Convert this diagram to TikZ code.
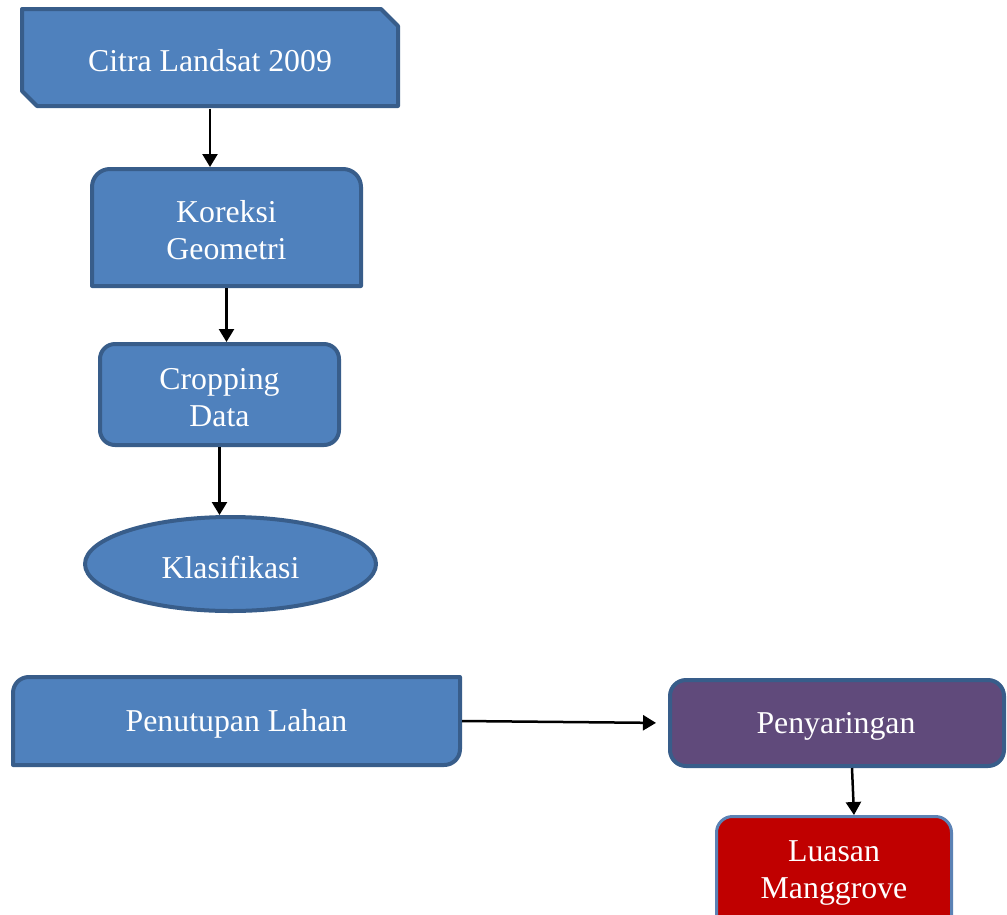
\documentclass[tikz,border=0pt]{standalone}
\usepackage{fontspec}
\setmainfont{Liberation Serif}
\usetikzlibrary{arrows.meta,calc}
\definecolor{fillblue}{HTML}{4F81BD}
\definecolor{edgeblue}{HTML}{385D8A}
\definecolor{fillpurple}{HTML}{604A7B}
\definecolor{fillred}{HTML}{C00000}
\definecolor{edgelight}{HTML}{5B82B5}
\begin{document}
\begin{tikzpicture}[x=1pt,y=-1pt,
  geo/.style={inner sep=0pt,outer sep=0pt,rectangle},
  txt/.style={text=white,font=\fontsize{31.8}{37}\selectfont,align=center,inner sep=0pt,yshift=-3pt},
  shp/.style={fill=fillblue,draw=edgeblue,line width=4pt,line join=round},
  arr/.style={-{Triangle[length=13pt,width=15pt]},line width=2.5pt,draw=black}]
\useasboundingbox (0,0) rectangle (1007,914);
% shapes
\draw[shp] (22,9) -- (381,9) -- (398,26) -- (398,106) -- (37,106) -- (22,91) -- cycle;
\draw[shp] (92,286) -- (92,187) .. controls (92,177) and (100,169) .. (110,169) -- (343,169) .. controls (353,169) and (361,177) .. (361,187) -- (361,286) -- cycle;
\draw[shp,rounded corners=15pt] (100,344) rectangle (339,445);
\draw[shp] (230.5,564) ellipse [x radius=145.5, y radius=47];
\draw[shp] (13,765) -- (13,693) .. controls (13,684) and (20,677) .. (29,677) -- (460,677) -- (460,749) .. controls (460,758) and (453,765) .. (444,765) -- cycle;
\draw[shp,fill=fillpurple,rounded corners=16pt] (670,680) rectangle (1004,766);
\draw[shp,fill=fillred,draw=edgelight,line width=3pt,rounded corners=16pt] (716.5,816.5) rectangle (951.5,940);
% nodes with labels
\node[geo,minimum width=380pt,minimum height=101pt,label={[txt]center:Citra Landsat 2009}] (citra) at (210,58) {};
\node[geo,minimum width=273pt,minimum height=121pt,label={[txt]center:Koreksi\\Geometri}] (koreksi) at (226.5,227.5) {};
\node[geo,minimum width=243pt,minimum height=105pt,label={[txt]center:Cropping\\Data}] (crop) at (219.5,394.5) {};
\node[geo,minimum width=295pt,minimum height=98pt,label={[txt]center:Klasifikasi}] (klas) at (230.5,564) {};
\node[geo,minimum width=451pt,minimum height=92pt,label={[txt]center:Penutupan Lahan}] (pen) at (236.5,721) {};
\node[geo,minimum width=338pt,minimum height=90pt,label={[txt]center:Penyaringan}] (peny) at (836,723) {};
\node[geo,minimum width=238pt,minimum height=110pt,label={[txt]center:Luasan\\Manggrove}] (luasan) at (834,870) {};
% connectors
\draw[arr] (citra.south) -- (citra.south |- koreksi.north);
\draw[arr] (koreksi.south) -- (koreksi.south |- crop.north);
\draw[arr] (crop.south) -- (crop.south |- klas.north);
\draw[arr,shorten >=11pt] (pen.east) -- (peny.west);
\coordinate (pa) at ($(peny.south)+(16,0)$);
\coordinate (la) at ($(luasan.north)+(20,0)$);
\draw[arr] (pa) -- (la);
\end{tikzpicture}
\end{document}
